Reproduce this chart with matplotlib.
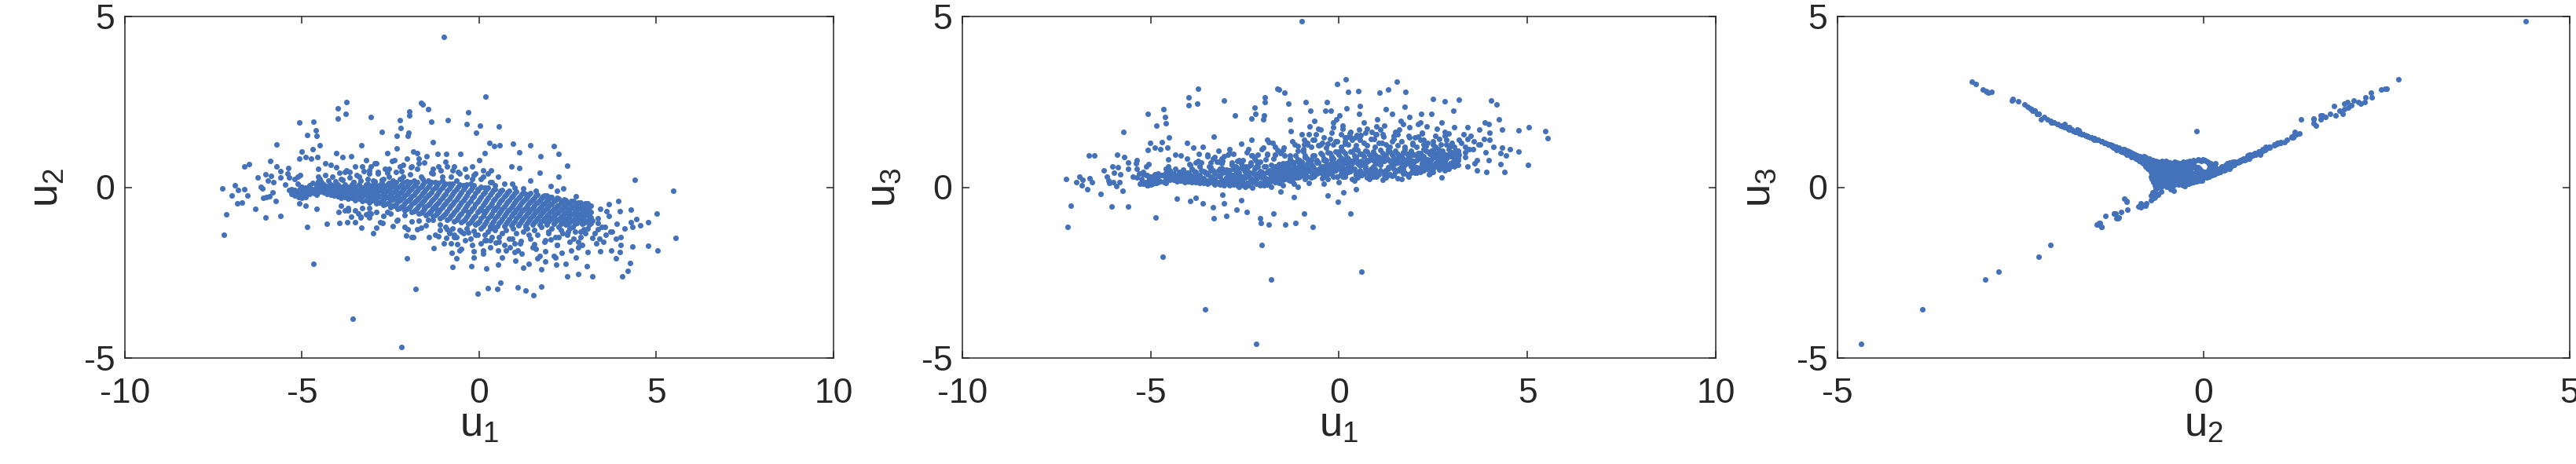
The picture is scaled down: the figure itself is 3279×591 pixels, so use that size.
"""Three pairwise scatter panels of (u1, u2, u3). Every value is estimated by eye from the picture;
the solid core of the cloud cannot be read point by point, so those rows only follow its outline."""
import numpy as np
import matplotlib
matplotlib.use("Agg")
import matplotlib.pyplot as plt

plt.rcParams["font.family"] = ["Liberation Sans", "DejaVu Sans"]
plt.rcParams["mathtext.fontset"] = "custom"
plt.rcParams["mathtext.rm"] = "Liberation Sans"
plt.rcParams["axes.unicode_minus"] = False

# isolated points, matched across the three panels
tail_u1 = [-1.00, -2.19, -3.56, -1.80, -4.68, -2.05, 0.60, 1.53, -0.05, 1.30,
           1.08, 0.25, 0.52, 1.76, 0.18, -3.75, -1.64, -1.60, -1.45, -4.00,
           -4.00, -3.76, -1.97, -1.97, -3.06, -0.32, -2.25, -1.35, -0.89, -0.36,
           0.02, -0.08, 0.55, -5.07, -4.67, -4.61, -4.60, -4.85, -5.73, -2.76,
           -2.22, -2.32, -2.00, -2.02, -1.31, 5.47, 5.54, 5.02, 5.04, 4.38,
           -7.20, -7.13, -6.03, -5.60, -4.86, -3.32, -3.00, -2.07, -1.87, -0.92,
           0.31, -0.04, 4.76, 4.77, 4.54, 4.43, 4.28, 4.28, 4.32, 4.32,
           4.25, 4.18, 4.04, 3.97, 3.86, 3.97, 3.92, 3.65]
tail_u2 = [4.40, -4.68, -3.84, -2.98, -2.25, -2.09, -2.80, -3.17, -3.11, -3.02,
           -2.94, -2.96, -2.97, -2.90, 2.66, 2.50, 2.48, 2.43, 2.29, 2.30,
           2.02, 2.15, 2.21, 2.11, 2.05, 2.20, 1.97, 1.92, 1.96, 1.86,
           1.80, 1.60, 1.78, 1.90, 1.92, 1.66, 1.50, 1.53, 1.25, 1.62,
           1.73, 1.50, 1.60, 1.50, 1.33, -0.10, -1.49, -0.78, -1.84, 0.22,
           -1.40, -0.79, -0.89, -0.85, -1.16, -1.19, -1.34, -1.42, -1.46, -1.22,
           -1.20, -1.05, -1.02, -1.71, -1.11, -0.93, -0.65, -1.02, -1.16, -1.73,
           -2.22, -2.45, -2.62, -1.90, -2.08, -0.70, -0.41, -0.50]
tail_u3 = [4.87, -4.58, -3.58, -2.70, -2.03, -1.68, -2.46, 3.09, 3.02, 2.86,
           2.78, 2.79, 2.82, 2.79, 3.15, 2.88, 2.88, 2.87, 2.77, 2.63,
           2.40, 2.45, 2.63, 2.50, 2.54, 2.50, 2.34, 2.45, 2.50, 2.25,
           2.10, 1.98, 2.39, 2.16, 2.28, 2.06, 1.87, 1.81, 1.63, 2.11,
           2.16, 2.02, 2.10, 1.98, 1.98, 1.64, 1.44, 0.66, 1.75, 0.45,
           -1.16, -0.53, -0.57, -0.57, -0.88, -0.90, -0.84, -1.05, -1.09, -0.78,
           -0.77, -0.42, 1.05, 1.66, 1.12, 0.92, 0.68, 1.00, 1.15, 1.70,
           2.00, 2.42, 2.55, 1.85, 1.90, 0.80, 0.45, 0.50]

# scatter above the band in the u1-u2 panel
upper_u1 = [-7.25, -6.89, -6.80, -6.98, -6.63, -6.55, -6.84, -6.69, -6.33, -6.64,
            -6.49, -6.25, -6.17, -6.13, -6.10, -6.00, -5.91, -6.02, -5.88, -5.89,
            -5.97, -5.80, -5.83, -5.74, -5.71, -5.60, -5.60, -5.38, -5.40, -5.36,
            -5.47, -5.36, -5.29, -5.13, -5.05, -5.20, -5.13, -5.05, -5.08, -4.90,
            -5.02, -5.08, -4.90, -4.74, -4.70, -4.51, -4.56, -4.35, -4.54, -4.54,
            -4.20, -4.04, -3.86, -3.62, -3.33, -4.04, -3.65, -3.30, -3.11, -2.95,
            -2.60, -2.33, -2.46, -1.87, -1.76, -2.25, -1.94, -1.48, -1.17, -0.93,
            -0.54, -1.09, -0.70, -0.39, 0.00, 0.16, 0.28, 0.42, 0.58, 0.96,
            1.14, 1.45, 2.10, 2.25, 1.74, 2.49, 0.90, 1.14, 1.71, 0.34,
            0.54, 0.93, 1.45, 2.25, 2.02, 2.38, 2.72, 1.24, -3.90, -3.40,
            -2.85, -2.70, -2.15, -3.55, -3.00, -2.40, -1.60, -1.30, -1.05, -0.80,
            -0.20, 0.10, 0.30, 0.70, -3.80, -3.20, -2.55, -2.05, -1.70, -0.10]
upper_u2 = [-0.03, 0.05, -0.09, -0.23, -0.05, -0.25, -0.46, -0.45, -0.63, 0.62,
            0.67, 0.28, 0.02, -0.04, -0.32, -0.28, -0.26, 0.37, 0.34, 0.77,
            0.19, 0.15, -0.16, -0.41, 0.60, 0.28, 0.47, 0.56, 0.40, 0.28,
            0.08, -0.07, -0.20, 0.32, 0.36, 0.23, 0.10, -0.03, -0.46, -0.54,
            1.05, 0.84, 0.88, 0.84, 1.11, 1.22, 0.88, 0.71, 0.53, 0.32,
            0.66, 1.01, 0.88, 0.90, 1.22, 0.58, 0.45, 0.60, 0.40, 0.71,
            1.01, 1.14, 0.77, 1.05, 1.01, 0.62, 0.58, 0.90, 0.97, 0.98,
            0.97, 0.49, 0.62, 0.53, 0.79, 1.00, 1.31, 1.20, 1.24, 1.27,
            1.03, 1.22, 1.20, 0.98, 0.90, 0.64, 0.60, 0.56, 0.43, 0.49,
            0.32, 0.10, 0.19, 0.32, 0.03, -0.03, -0.27, -0.03, 0.25, 0.30,
            0.45, 0.25, 0.30, 0.15, 0.20, 0.15, 0.25, 0.40, 0.20, 0.30,
            0.25, 0.30, 0.15, 0.10, 0.45, 0.80, 0.55, 0.85, 0.70, 0.40]
upper_u3 = [0.25, 0.32, 0.22, 0.16, 0.26, 0.15, 0.05, -0.05, -0.20, 0.92,
            0.93, 0.50, 0.30, 0.20, 0.12, 0.14, 0.03, 0.62, 0.58, 0.95,
            0.42, 0.38, 0.15, -0.10, 0.88, 0.55, 0.72, 0.80, 0.70, 0.55,
            0.32, 0.28, 0.10, 0.60, 0.68, 0.45, 0.35, 0.30, 0.05, 0.22,
            1.30, 1.10, 1.15, 1.12, 1.32, 1.45, 1.15, 0.95, 0.82, 0.60,
            0.92, 1.30, 1.15, 1.18, 1.48, 0.85, 0.72, 0.88, 0.70, 0.95,
            1.28, 1.40, 1.02, 1.32, 1.30, 0.85, 0.82, 1.15, 1.25, 1.25,
            1.22, 0.75, 0.90, 0.80, 1.05, 1.28, 1.58, 1.45, 1.52, 1.55,
            1.30, 1.50, 1.48, 1.25, 1.18, 0.90, 0.88, 0.84, 0.75, 0.78,
            0.65, 0.45, 0.55, 0.70, 0.42, 0.38, 0.28, 0.36, 0.55, 0.58,
            0.72, 0.55, 0.60, 0.42, 0.50, 0.45, 0.55, 0.70, 0.50, 0.58,
            0.52, 0.58, 0.48, 0.45, 0.72, 1.08, 0.80, 1.12, 0.95, 0.68]

# scatter below the band in the u1-u2 panel
lower_u1 = [-4.59, -3.97, -3.73, -3.50, -3.34, -3.70, -3.42, -3.11, -2.80, -2.91,
            -3.19, -2.33, -2.02, -1.63, -1.90, -1.24, -1.29, -0.78, -0.65, -0.76,
            -0.16, -0.22, 0.19, 0.54, 0.54, 1.01, 1.40, 1.63, 1.87, 2.18,
            2.49, 2.80, 3.19, 3.03, 2.72, 2.33, 1.87, 1.09, -0.31, -0.62,
            -0.93, 0.16, 0.47, 0.86, 1.17, 1.56, 2.02, 2.49, 2.80, 3.19,
            3.42, 3.73, 3.58, 3.19, 2.95, 3.42, 3.65, 3.89, 3.34, 2.95,
            2.64, 2.50, 2.25, 1.87, 1.40, 0.93, 0.30, -0.10, -0.50, -0.85,
            -1.10, -1.45, 0.05, 0.30, 0.75, 1.20, 1.70, 2.15, 2.60, 3.05,
            3.30, 3.55, 3.10, 2.85, 2.55, 2.20, 1.50, 1.00, 0.55, 0.20,
            -0.40, -0.70, -1.00, 1.95, 2.30, 2.70, 3.00, 3.35, 3.70, 4.00,
            -0.55, -0.15, 0.10, 0.65, 1.25, 1.75, 2.10, 2.45, 2.90, 3.50]
lower_u2 = [-0.63, -0.72, -1.02, -1.02, -0.89, -0.67, -0.76, -0.89, -1.02, -1.19,
            -0.80, -0.97, -1.23, -1.19, -1.45, -1.40, -1.78, -1.92, -2.09, -2.34,
            -1.88, -2.31, -2.37, -2.27, -1.84, -2.14, -2.25, -2.09, -2.18, -2.27,
            -2.61, -2.53, -2.61, -2.31, -2.05, -1.92, -1.88, -1.84, -1.32, -1.66,
            -1.49, -1.40, -1.62, -1.75, -1.58, -1.66, -1.53, -1.40, -1.75, -1.49,
            -1.88, -1.84, -1.40, -0.97, -0.72, -0.63, -0.85, -1.06, -1.23, -1.23,
            -1.15, -1.30, -1.45, -1.55, -1.40, -1.50, -1.55, -1.40, -1.30, -1.35,
            -1.10, -0.95, -1.65, -1.75, -1.85, -1.95, -2.00, -2.05, -1.85, -1.90,
            -1.65, -1.15, -1.10, -1.45, -1.60, -1.70, -1.75, -1.65, -1.45, -1.55,
            -1.55, -1.45, -1.65, -1.35, -1.25, -1.30, -1.35, -1.05, -1.30, -1.45,
            -1.85, -2.05, -1.95, -2.05, -2.35, -2.40, -2.00, -2.25, -1.70, -1.60]
lower_u3 = [0.55, 0.68, 0.98, 0.96, 0.85, 0.62, 0.72, 0.85, 0.97, 1.12,
            0.75, 0.93, 1.15, 1.10, 1.38, 1.35, 1.65, 1.78, 1.95, 2.25,
            1.75, 2.25, 2.30, 2.15, 1.70, 2.00, 2.15, 1.95, 2.05, 2.15,
            2.58, 2.52, 2.56, 2.25, 1.90, 1.78, 1.75, 1.70, 1.28, 1.55,
            1.40, 1.35, 1.52, 1.62, 1.48, 1.55, 1.45, 1.35, 1.62, 1.40,
            1.75, 1.70, 1.35, 0.95, 0.70, 0.62, 0.80, 1.02, 1.18, 1.20,
            1.12, 1.25, 1.38, 1.46, 1.35, 1.42, 1.46, 1.35, 1.25, 1.30,
            1.08, 0.92, 1.55, 1.62, 1.72, 1.80, 1.85, 1.90, 1.72, 1.75,
            1.55, 1.12, 1.08, 1.38, 1.50, 1.58, 1.62, 1.55, 1.38, 1.46,
            1.46, 1.38, 1.55, 1.30, 1.20, 1.25, 1.30, 1.03, 1.25, 1.38,
            1.72, 1.90, 1.80, 1.90, 2.28, 2.35, 1.85, 2.15, 1.58, 1.50]

# lower tail of the u2-u3 panel, under the apex of the V
apex_u1 = [-4.30, -3.95, -3.62, -3.35, -3.05, -2.72, -2.45, -2.10, -1.75, -1.42,
           -1.15, -0.70, -0.30, 0.12, 0.45, -3.80, -3.10, -2.60, -1.55, -1.20]
apex_u2 = [-1.08, -1.05, -0.86, -0.86, -0.78, -1.04, -1.13, -1.17, -1.22, -1.45,
           -1.43, -1.39, -0.72, -0.70, -0.65, -0.68, -0.62, -0.72, -0.58, -0.66]
apex_u3 = [-0.33, -0.41, -0.46, -0.59, -0.46, -0.65, -0.72, -0.90, -0.78, -1.09,
           -1.04, -1.16, -0.25, -0.15, -0.05, -0.32, -0.22, -0.38, -0.12, -0.28]

# dense fringe above the band
fringe_up_u1 = [-4.9, -4.8, -4.75, -4.7, -4.65, -4.95, -5.0, -4.85, -4.55, -4.5,
                -4.45, -4.35, -4.25, -4.15, -4.05, -3.95, -3.85, -3.75, -3.65, -3.55,
                -3.45, -3.35, -3.25, -3.15, -3.05, -2.95, -2.85, -2.75, -2.65, -2.55,
                -2.45, -2.35, -2.25, -2.15, -2.05, -1.95, -1.85, -1.75, -1.65, -1.55,
                -1.45, -1.35, -1.25, -1.15, -1.05, -0.95, -0.85, -0.75, -0.65, -0.55,
                -0.45, -0.35, -0.25, -0.15, -0.05, 0.05, 0.15, 0.25, 0.35, 0.45,
                -3.5, -3.1, -2.9, -2.6, -2.4, -2.2, -1.9, -1.7, -1.3, -0.9,
                -0.6, -0.2, 0.1, 0.6, 0.8, 1.0, 1.3, 1.6, 1.9, 2.2]
fringe_up_u2 = [-0.02, 0.05, -0.1, 0.12, -0.15, -0.05, 0.02, -0.18, 0.18, 0.25,
                0.15, 0.35, 0.2, 0.3, 0.18, 0.42, 0.22, 0.5, 0.28, 0.15,
                0.35, 0.2, 0.48, 0.25, 0.6, 0.18, 0.4, 0.22, 0.55, 0.3,
                0.2, 0.45, 0.25, 0.65, 0.18, 0.38, 0.2, 0.55, 0.3, 0.72,
                0.2, 0.42, 0.15, 0.6, 0.3, 0.75, 0.1, 0.5, 0.2, 0.4,
                0.05, 0.3, 0.1, 0.35, -0.05, 0.25, 0.0, 0.4, 0.15, 0.05,
                0.62, 0.5, 0.7, 0.42, 0.8, 0.48, 0.62, 0.85, 0.55, 0.62,
                0.45, 0.6, 0.5, -0.1, -0.15, 0.0, -0.2, -0.1, -0.25, -0.1]
fringe_up_u3 = [0.2, 0.3, 0.18, 0.35, 0.15, 0.25, 0.32, 0.12, 0.42, 0.5,
                0.4, 0.55, 0.45, 0.52, 0.42, 0.65, 0.48, 0.78, 0.5, 0.45,
                0.6, 0.5, 0.75, 0.55, 0.9, 0.45, 0.65, 0.5, 0.8, 0.58,
                0.48, 0.72, 0.55, 0.95, 0.45, 0.62, 0.5, 0.85, 0.6, 1.0,
                0.55, 0.72, 0.42, 0.92, 0.62, 1.05, 0.7, 0.8, 0.55, 0.72,
                0.4, 0.65, 0.5, 0.72, 0.3, 0.6, 0.32, 0.75, 0.55, 0.38,
                0.9, 0.78, 1.0, 0.7, 1.12, 0.78, 0.95, 1.18, 0.85, 0.92,
                0.72, 0.88, 0.8, 0.35, 0.4, 0.45, 0.55, 0.5, 0.6, 0.5]

# dense fringe below the band
fringe_low_u1 = [-3.9, -3.7, -3.5, -3.3, -3.1, -2.9, -2.7, -2.5, -2.3, -2.1,
                 -1.9, -1.7, -1.5, -1.3, -1.1, -0.95, -0.85, -0.75, -0.65, -0.55,
                 -0.45, -0.35, -0.25, -0.15, -0.05, 0.05, 0.15, 0.25, 0.35, 0.45,
                 0.55, 0.65, 0.75, 0.85, 0.95, 1.05, 1.15, 1.25, 1.35, 1.45,
                 1.55, 1.65, 1.75, 1.85, 1.95, 2.05, 2.15, 2.25, 2.35, 2.45,
                 2.55, 2.65, 2.75, 2.85, 2.95, 3.05, 3.15, 3.25, 3.35, 3.45,
                 -0.8, -0.5, -0.2, 0.1, 0.4, 0.7, 1.0, 1.3, 1.6, 1.9,
                 2.2, 2.5, 2.8, 3.1, 3.4, 3.6, 3.75, 3.85, 4.0, 4.1]
fringe_low_u2 = [-0.55, -0.62, -0.68, -0.6, -0.75, -0.72, -0.85, -0.78, -0.95, -0.82,
                 -1.0, -0.98, -1.12, -0.95, -1.25, -1.15, -1.3, -1.2, -1.45, -1.25,
                 -1.35, -1.2, -1.5, -1.28, -1.4, -1.2, -1.55, -1.3, -1.45, -1.25,
                 -1.6, -1.35, -1.25, -1.5, -1.2, -1.35, -1.65, -1.3, -1.2, -1.5,
                 -1.25, -1.4, -1.15, -1.6, -1.3, -1.2, -1.45, -1.15, -1.35, -1.1,
                 -1.2, -1.5, -1.05, -1.3, -0.95, -1.2, -1.05, -1.35, -0.9, -1.15,
                 -1.65, -1.8, -1.7, -1.85, -1.15, -1.7, -1.9, -1.15, -1.8, -1.1,
                 -1.7, -1.0, -1.6, -0.8, -1.5, -0.7, -1.3, -1.5, -1.7, -1.2]
fringe_low_u3 = [0.25, 0.15, 0.4, 0.2, 0.55, 0.5, 0.78, 0.62, 0.92, 0.75,
                 0.98, 0.95, 1.1, 0.92, 1.2, 1.12, 1.26, 1.18, 1.38, 1.22,
                 1.3, 1.16, 1.42, 1.25, 1.35, 1.18, 1.45, 1.25, 1.38, 1.22,
                 1.5, 1.3, 1.22, 1.42, 1.18, 1.3, 1.55, 1.26, 1.18, 1.42,
                 1.22, 1.35, 1.12, 1.5, 1.25, 1.18, 1.38, 1.12, 1.3, 1.08,
                 1.18, 1.42, 1.02, 1.25, 0.95, 1.18, 1.02, 1.3, 0.88, 1.12,
                 1.55, 1.68, 1.6, 1.72, 1.12, 1.6, 1.78, 1.12, 1.68, 1.08,
                 1.6, 0.98, 1.5, 0.8, 1.42, 0.7, 1.25, 1.42, 1.6, 1.18]

# blob at the left end of the band
blob_u1 = [-5.3, -5.25, -5.2, -5.15, -5.1, -5.05, -5.0, -4.95, -4.9, -4.85,
           -4.8, -4.75, -5.2, -5.1, -5.0, -4.9, -4.8, -4.7, -4.65, -4.6]
blob_u2 = [-0.05, -0.15, -0.08, -0.2, -0.1, -0.18, -0.12, -0.22, -0.08, -0.15,
           -0.2, -0.1, -0.25, -0.28, -0.3, -0.28, -0.02, -0.06, -0.18, -0.22]
blob_u3 = [0.4, 0.25, 0.38, 0.15, 0.35, 0.2, 0.3, 0.1, 0.38, 0.25,
           0.15, 0.35, 0.1, 0.05, 0.08, 0.12, 0.4, 0.36, 0.18, 0.12]

# solid core, rows read along the band
core_a_u1 = [-4.6, -4.4, -4.2, -4.0, -3.8, -3.6, -3.4, -3.2, -3.0, -2.8,
             -2.6, -2.4, -2.2, -2.0, -1.8, -1.6, -1.4, -1.2, -1.0, -0.8,
             -0.6, -0.4, -0.2, 0.0, 0.2, 0.4, 0.6, 0.8, 1.0, 1.2,
             1.4, 1.6, 1.8, 2.0, 2.2, 2.4, 2.6, 2.8, 3.0]
core_b_u1 = [-4.5, -4.3, -4.1, -3.9, -3.7, -3.5, -3.3, -3.1, -2.9, -2.7,
             -2.5, -2.3, -2.1, -1.9, -1.7, -1.5, -1.3, -1.1, -0.9, -0.7,
             -0.5, -0.3, -0.1, 0.1, 0.3, 0.5, 0.7, 0.9, 1.1, 1.3,
             1.5, 1.7, 1.9, 2.1, 2.3, 2.5, 2.7, 2.9, 3.1]
core_1_u2 = [0.07, 0.07, 0.08, 0.08, 0.07, 0.08, 0.07, 0.08, 0.07, 0.08,
             0.09, 0.09, 0.09, 0.10, 0.09, 0.08, 0.08, 0.06, 0.05, 0.03,
             0.01, 0.01, -0.01, -0.03, -0.06, -0.08, -0.12, -0.14, -0.17, -0.19,
             -0.22, -0.23, -0.26, -0.28, -0.32, -0.36, -0.40, -0.44, -0.48]
core_3_u2 = [0.01, 0.00, -0.02, -0.03, -0.05, -0.05, -0.07, -0.07, -0.08, -0.09,
             -0.10, -0.12, -0.13, -0.13, -0.16, -0.18, -0.19, -0.21, -0.24, -0.26,
             -0.29, -0.30, -0.32, -0.35, -0.37, -0.38, -0.41, -0.43, -0.44, -0.45,
             -0.47, -0.48, -0.49, -0.50, -0.53, -0.56, -0.59, -0.62, -0.65]
core_5_u2 = [-0.04, -0.08, -0.11, -0.15, -0.17, -0.18, -0.20, -0.22, -0.24, -0.26,
             -0.29, -0.32, -0.34, -0.37, -0.40, -0.43, -0.46, -0.49, -0.52, -0.55,
             -0.58, -0.61, -0.64, -0.67, -0.68, -0.68, -0.70, -0.71, -0.72, -0.71,
             -0.72, -0.72, -0.73, -0.72, -0.74, -0.76, -0.79, -0.80, -0.82]
core_7_u2 = [-0.10, -0.15, -0.21, -0.26, -0.29, -0.32, -0.34, -0.37, -0.39, -0.44,
             -0.48, -0.53, -0.56, -0.61, -0.65, -0.69, -0.73, -0.77, -0.81, -0.85,
             -0.88, -0.92, -0.96, -0.99, -0.99, -0.99, -1.00, -1.00, -0.99, -0.98,
             -0.98, -0.97, -0.97, -0.95, -0.96, -0.96, -0.98, -0.99, -1.00]
core_2_u2 = [0.04, 0.03, 0.03, 0.01, 0.01, 0.01, 0.00, 0.00, -0.01, -0.01,
             -0.01, -0.02, -0.02, -0.03, -0.04, -0.05, -0.06, -0.08, -0.10, -0.12,
             -0.14, -0.15, -0.17, -0.19, -0.21, -0.23, -0.26, -0.29, -0.31, -0.33,
             -0.35, -0.37, -0.39, -0.41, -0.44, -0.47, -0.50, -0.54, -0.58]
core_4_u2 = [-0.02, -0.05, -0.08, -0.10, -0.11, -0.13, -0.14, -0.15, -0.17, -0.19,
             -0.21, -0.23, -0.25, -0.27, -0.30, -0.32, -0.35, -0.38, -0.40, -0.43,
             -0.45, -0.47, -0.50, -0.52, -0.54, -0.56, -0.57, -0.58, -0.59, -0.60,
             -0.60, -0.61, -0.62, -0.63, -0.65, -0.67, -0.70, -0.72, -0.75]
core_6_u2 = [-0.07, -0.12, -0.16, -0.20, -0.22, -0.25, -0.27, -0.29, -0.32, -0.35,
             -0.39, -0.43, -0.46, -0.50, -0.54, -0.57, -0.61, -0.65, -0.69, -0.72,
             -0.76, -0.79, -0.83, -0.85, -0.84, -0.84, -0.85, -0.85, -0.85, -0.85,
             -0.85, -0.85, -0.85, -0.85, -0.86, -0.88, -0.90, -0.92, -0.93]
core_8_u2 = [-0.13, -0.19, -0.25, -0.30, -0.34, -0.37, -0.41, -0.44, -0.47, -0.52,
             -0.58, -0.63, -0.67, -0.72, -0.78, -0.82, -0.85, -0.90, -0.95, -0.99,
             -1.03, -1.07, -1.10, -1.14, -1.13, -1.13, -1.13, -1.12, -1.12, -1.11,
             -1.10, -1.09, -1.08, -1.06, -1.07, -1.07, -1.07, -1.08, -1.08]
core_1_u3 = [0.42, 0.40, 0.40, 0.42, 0.45, 0.48, 0.50, 0.50, 0.52, 0.55,
             0.58, 0.60, 0.60, 0.62, 0.65, 0.68, 0.70, 0.72, 0.75, 0.78,
             0.80, 0.80, 0.82, 0.78, 0.80, 0.82, 0.78, 0.80, 0.75, 0.78,
             0.72, 0.75, 0.70, 0.75, 0.70, 0.72, 0.75, 0.70, 0.72]
core_3_u3 = [0.30, 0.30, 0.32, 0.28, 0.30, 0.26, 0.30, 0.34, 0.28, 0.35,
             0.30, 0.38, 0.32, 0.40, 0.36, 0.42, 0.35, 0.45, 0.38, 0.50,
             0.40, 0.55, 0.42, 0.60, 0.48, 0.55, 0.35, 0.45, 0.30, 0.42,
             0.34, 0.50, 0.38, 0.45, 0.55, 0.40, 0.62, 0.50, 0.68]
core_5_u3 = [0.20, 0.22, 0.20, 0.18, 0.20, 0.16, 0.18, 0.15, 0.20, 0.14,
             0.22, 0.12, 0.25, 0.14, 0.28, 0.12, 0.30, 0.10, 0.35, 0.12,
             0.40, 0.10, 0.45, 0.15, 0.55, 0.20, 0.65, 0.25, 0.70, 0.35,
             0.75, 0.55, 0.80, 0.62, 0.85, 0.70, 0.88, 0.75, 0.90]
core_7_u3 = [0.28, 0.24, 0.20, 0.18, 0.14, 0.12, 0.16, 0.10, 0.13, 0.08,
             0.12, 0.05, 0.10, 0.06, 0.02, 0.15, 0.50, 0.60, 0.68, 0.75,
             0.78, 0.85, 0.90, 0.95, 0.88, 0.92, 0.98, 0.95, 0.90, 0.93,
             0.96, 0.92, 0.98, 0.95, 0.90, 0.97, 1.00, 0.95, 1.02]
core_2_u3 = [0.38, 0.35, 0.36, 0.34, 0.36, 0.38, 0.40, 0.42, 0.38, 0.40,
             0.45, 0.42, 0.48, 0.45, 0.50, 0.55, 0.52, 0.58, 0.50, 0.62,
             0.58, 0.65, 0.55, 0.68, 0.60, 0.70, 0.55, 0.62, 0.50, 0.58,
             0.45, 0.55, 0.42, 0.50, 0.60, 0.45, 0.62, 0.55, 0.65]
core_4_u3 = [0.25, 0.24, 0.26, 0.22, 0.25, 0.20, 0.24, 0.20, 0.26, 0.22,
             0.28, 0.20, 0.30, 0.25, 0.32, 0.22, 0.35, 0.28, 0.40, 0.30,
             0.45, 0.25, 0.50, 0.30, 0.62, 0.28, 0.60, 0.30, 0.65, 0.35,
             0.70, 0.40, 0.75, 0.48, 0.78, 0.55, 0.72, 0.60, 0.80]
core_6_u3 = [0.32, 0.28, 0.26, 0.22, 0.18, 0.16, 0.14, 0.20, 0.12, 0.16,
             0.10, 0.14, 0.12, 0.08, 0.15, 0.05, 0.20, 0.02, 0.25, 0.30,
             0.55, 0.62, 0.70, 0.75, 0.72, 0.78, 0.75, 0.80, 0.76, 0.82,
             0.78, 0.84, 0.80, 0.86, 0.82, 0.88, 0.90, 0.92, 0.95]
core_8_u3 = [0.22, 0.18, 0.16, 0.14, 0.12, 0.10, 0.08, 0.12, 0.06, 0.05,
             0.02, 0.00, 0.05, 0.45, 0.60, 0.70, 0.75, 0.82, 0.88, 0.92,
             1.00, 1.02, 1.05, 1.08, 1.05, 1.10, 1.08, 1.05, 1.10, 1.04,
             1.08, 1.02, 1.05, 1.00, 1.06, 1.10, 1.04, 1.12, 1.08]

# second pass over the thick part of the core
thick_c_u1 = [-3.15, -2.95, -2.75, -2.55, -2.35, -2.15, -1.95, -1.75, -1.55, -1.35,
              -1.15, -0.95, -0.75, -0.55, -0.35, -0.15, 0.05, 0.25, 0.45, 0.65,
              0.85, 1.05, 1.25, 1.45, 1.65, 1.85, 2.05, 2.25, 2.45, 2.65,
              2.85, 3.05]
thick_d_u1 = [-3.05, -2.85, -2.65, -2.45, -2.25, -2.05, -1.85, -1.65, -1.45, -1.25,
              -1.05, -0.85, -0.65, -0.45, -0.25, -0.05, 0.15, 0.35, 0.55, 0.75,
              0.95, 1.15, 1.35, 1.55, 1.75, 1.95, 2.15, 2.35, 2.55, 2.75,
              2.95, 3.15]
thick_1_u2 = [0.11, 0.11, 0.13, 0.13, 0.15, 0.16, 0.15, 0.15, 0.15, 0.14,
              0.12, 0.10, 0.10, 0.09, 0.08, 0.05, 0.02, -0.01, -0.05, -0.08,
              -0.11, -0.13, -0.15, -0.18, -0.21, -0.24, -0.29, -0.34, -0.37, -0.41,
              -0.44, -0.47]
thick_3_u2 = [-0.04, -0.05, -0.05, -0.07, -0.07, -0.07, -0.09, -0.11, -0.12, -0.14,
              -0.16, -0.19, -0.20, -0.22, -0.24, -0.27, -0.29, -0.31, -0.34, -0.36,
              -0.38, -0.39, -0.41, -0.42, -0.44, -0.46, -0.49, -0.54, -0.56, -0.59,
              -0.62, -0.63]
thick_5_u2 = [-0.19, -0.21, -0.23, -0.26, -0.28, -0.30, -0.33, -0.36, -0.38, -0.41,
              -0.44, -0.47, -0.50, -0.52, -0.55, -0.58, -0.60, -0.61, -0.62, -0.64,
              -0.65, -0.65, -0.66, -0.66, -0.67, -0.68, -0.70, -0.73, -0.75, -0.77,
              -0.79, -0.80]
thick_7_u2 = [-0.34, -0.37, -0.41, -0.45, -0.49, -0.53, -0.57, -0.61, -0.64, -0.68,
              -0.72, -0.76, -0.80, -0.82, -0.86, -0.89, -0.91, -0.91, -0.91, -0.92,
              -0.92, -0.91, -0.91, -0.90, -0.90, -0.90, -0.91, -0.92, -0.94, -0.95,
              -0.96, -0.97]
thick_2_u2 = [0.03, 0.03, 0.04, 0.03, 0.04, 0.04, 0.03, 0.02, 0.02, 0.00,
              -0.02, -0.04, -0.05, -0.06, -0.08, -0.11, -0.14, -0.16, -0.19, -0.22,
              -0.25, -0.26, -0.28, -0.30, -0.33, -0.35, -0.39, -0.44, -0.47, -0.50,
              -0.53, -0.55]
thick_4_u2 = [-0.12, -0.13, -0.14, -0.16, -0.18, -0.19, -0.21, -0.24, -0.25, -0.28,
              -0.30, -0.33, -0.35, -0.37, -0.40, -0.43, -0.45, -0.46, -0.48, -0.50,
              -0.52, -0.52, -0.54, -0.54, -0.56, -0.57, -0.60, -0.63, -0.66, -0.68,
              -0.71, -0.72]
thick_6_u2 = [-0.26, -0.29, -0.32, -0.36, -0.38, -0.41, -0.45, -0.48, -0.51, -0.54,
              -0.58, -0.61, -0.65, -0.67, -0.70, -0.73, -0.75, -0.76, -0.76, -0.78,
              -0.78, -0.78, -0.78, -0.78, -0.78, -0.79, -0.80, -0.83, -0.84, -0.86,
              -0.87, -0.88]
thick_8_u2 = [-0.41, -0.45, -0.50, -0.55, -0.60, -0.64, -0.69, -0.74, -0.78, -0.82,
              -0.86, -0.90, -0.95, -0.98, -1.02, -1.05, -1.06, -1.06, -1.05, -1.06,
              -1.05, -1.04, -1.04, -1.02, -1.01, -1.01, -1.01, -1.02, -1.03, -1.04,
              -1.05, -1.05]
thick_1_u3 = [0.55, 0.50, 0.60, 0.55, 0.65, 0.70, 0.60, 0.55, 0.65, 0.60,
              0.50, 0.55, 0.45, 0.50, 0.42, 0.48, 0.38, 0.45, 0.35, 0.40,
              0.30, 0.38, 0.28, 0.35, 0.25, 0.32, 0.42, 0.50, 0.45, 0.52,
              0.55, 0.60]
thick_3_u3 = [0.30, 0.38, 0.24, 0.32, 0.20, 0.34, 0.26, 0.40, 0.22, 0.36,
              0.28, 0.46, 0.30, 0.52, 0.34, 0.58, 0.38, 0.62, 0.42, 0.66,
              0.46, 0.70, 0.50, 0.68, 0.55, 0.72, 0.58, 0.70, 0.62, 0.68,
              0.60, 0.70]
thick_5_u3 = [0.12, 0.20, 0.32, 0.16, 0.26, 0.40, 0.20, 0.30, 0.46, 0.22,
              0.35, 0.50, 0.28, 0.42, 0.56, 0.30, 0.50, 0.62, 0.38, 0.70,
              0.55, 0.75, 0.50, 0.78, 0.60, 0.72, 0.80, 0.74, 0.82, 0.76,
              0.84, 0.80]
thick_7_u3 = [0.08, 0.16, 0.25, 0.06, 0.20, 0.30, 0.10, 0.24, 0.36, 0.42,
              0.50, 0.60, 0.68, 0.72, 0.80, 0.84, 0.86, 0.85, 0.88, 0.90,
              0.84, 0.88, 0.92, 0.86, 0.90, 0.88, 0.94, 0.90, 0.95, 0.92,
              0.96, 0.98]
thick_2_u3 = [0.45, 0.35, 0.42, 0.30, 0.38, 0.28, 0.40, 0.32, 0.36, 0.28,
              0.42, 0.30, 0.38, 0.26, 0.44, 0.30, 0.36, 0.24, 0.40, 0.28,
              0.34, 0.22, 0.38, 0.26, 0.42, 0.50, 0.45, 0.55, 0.60, 0.58,
              0.62, 0.65]
thick_4_u3 = [0.18, 0.28, 0.15, 0.30, 0.22, 0.36, 0.16, 0.42, 0.25, 0.48,
              0.30, 0.55, 0.34, 0.60, 0.40, 0.66, 0.46, 0.70, 0.50, 0.74,
              0.55, 0.76, 0.60, 0.72, 0.65, 0.78, 0.58, 0.74, 0.70, 0.78,
              0.68, 0.80]
thick_6_u3 = [0.10, 0.18, 0.28, 0.12, 0.22, 0.34, 0.14, 0.26, 0.40, 0.18,
              0.32, 0.48, 0.38, 0.55, 0.68, 0.62, 0.72, 0.78, 0.70, 0.80,
              0.74, 0.82, 0.76, 0.84, 0.80, 0.78, 0.85, 0.82, 0.88, 0.84,
              0.90, 0.86]
thick_8_u3 = [0.05, 0.14, 0.02, 0.10, 0.22, 0.30, 0.45, 0.55, 0.68, 0.75,
              0.80, 0.85, 0.92, 0.95, 1.00, 1.02, 1.00, 1.04, 0.98, 1.05,
              0.96, 1.00, 1.04, 0.98, 1.02, 0.95, 1.00, 1.05, 0.98, 1.06,
              1.02, 1.08]

u1 = np.concatenate([tail_u1, upper_u1, lower_u1, apex_u1, fringe_up_u1, fringe_low_u1, blob_u1,
                     core_a_u1, core_a_u1, core_a_u1, core_a_u1,
                     core_b_u1, core_b_u1, core_b_u1, core_b_u1,
                     thick_c_u1, thick_c_u1, thick_c_u1, thick_c_u1,
                     thick_d_u1, thick_d_u1, thick_d_u1, thick_d_u1])
u2 = np.concatenate([tail_u2, upper_u2, lower_u2, apex_u2, fringe_up_u2, fringe_low_u2, blob_u2,
                     core_1_u2, core_3_u2, core_5_u2, core_7_u2,
                     core_2_u2, core_4_u2, core_6_u2, core_8_u2,
                     thick_1_u2, thick_3_u2, thick_5_u2, thick_7_u2,
                     thick_2_u2, thick_4_u2, thick_6_u2, thick_8_u2])
u3 = np.concatenate([tail_u3, upper_u3, lower_u3, apex_u3, fringe_up_u3, fringe_low_u3, blob_u3,
                     core_1_u3, core_3_u3, core_5_u3, core_7_u3,
                     core_2_u3, core_4_u3, core_6_u3, core_8_u3,
                     thick_1_u3, thick_3_u3, thick_5_u3, thick_7_u3,
                     thick_2_u3, thick_4_u3, thick_6_u3, thick_8_u3])

panels = [
    (u1, u2, "1", "2", (-10, 10), [-10, -5, 0, 5, 10], (159, 1061)),
    (u1, u3, "1", "3", (-10, 10), [-10, -5, 0, 5, 10], (1225, 2184)),
    (u2, u3, "2", "3", (-5, 5), [-5, 0, 5], (2339, 3271)),
]

W, H = 3280, 591
TOP, BOTTOM = 21, 456
INK = "#262626"

fig = plt.figure(figsize=(W / 100, H / 100), dpi=100)
for x, y, xi, yi, xlim, xticks, (left, right) in panels:
    ax = fig.add_axes([left / W, 1 - BOTTOM / H, (right - left) / W, (BOTTOM - TOP) / H])
    ax.scatter(x, y, s=26, color="#4472BA", linewidths=0)
    ax.set_xlim(*xlim)
    ax.set_ylim(-5, 5)
    ax.set_xticks(xticks)
    ax.set_yticks([-5, 0, 5])
    ax.tick_params(direction="in", top=True, right=True, length=6.5, width=1.1, color=INK,
                   labelcolor=INK, labelsize=32)
    ax.tick_params(axis="x", pad=18)
    ax.tick_params(axis="y", pad=9)
    for spine in ax.spines.values():
        spine.set_linewidth(1.1)
        spine.set_color(INK)
    ax.set_xlabel(rf"$\mathrm{{u}}_{{{xi}}}$", fontsize=38, color=INK, labelpad=-4)
    ax.set_ylabel(rf"$\mathrm{{u}}_{{{yi}}}$", fontsize=38, color=INK, labelpad=16)

fig.savefig("out.png", dpi=100)
